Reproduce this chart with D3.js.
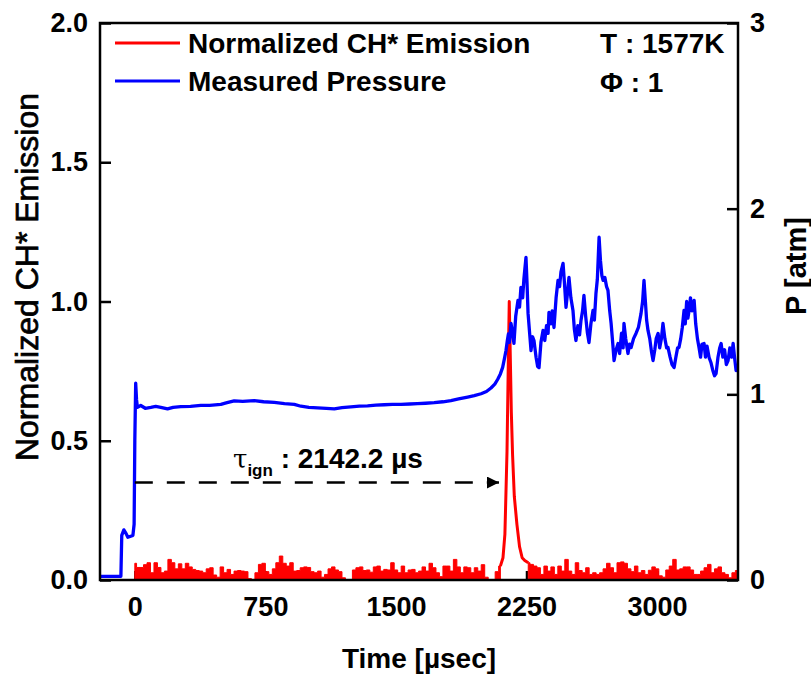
<!DOCTYPE html>
<html>
<head>
<meta charset="utf-8">
<script src="https://cdn.jsdelivr.net/npm/d3@7"></script>
<style>
body { margin: 0; background: #fff; }
text { font-family: "Liberation Sans", Arial, sans-serif; font-weight: bold; fill: #000; }
</style>
</head>
<body>
<script>
// normalized CH* emission, read every 20 us from t = 0 up to 2100
var emisStep = 20;
var emisBefore = [
  0.06, 0.045, 0.045, 0.055, 0.062, 0.026, 0.062, 0.045, 0.026, 0.032,
  0.074, 0.062, 0.04, 0.058, 0.04, 0.06, 0.047, 0.038, 0.034, 0.032,
  0.026, 0.04, 0.044, 0.018, 0.01, 0.047, 0.026, 0.038, 0.02, 0.032,
  0.034, 0.032, 0.03, 0.005, 0, 0.026, 0.056, 0.06, 0.03, 0.02,
  0.04, 0.062, 0.086, 0.06, 0.05, 0.062, 0.032, 0.034, 0.044, 0.047,
  0.045, 0.03, 0.026, 0.032, 0.01, 0.02, 0.04, 0.047, 0.036, 0.03,
  0.008, 0, 0, 0.036, 0.044, 0.047, 0.034, 0.036, 0.028, 0.047,
  0.05, 0.032, 0.038, 0.036, 0.062, 0.036, 0.026, 0.05, 0.026, 0.036,
  0.038, 0.026, 0.032, 0.047, 0.032, 0.06, 0.044, 0.026, 0.012, 0.05,
  0.05, 0.032, 0.074, 0.047, 0.026, 0.047, 0.044, 0.026, 0.044, 0.032,
  0.055, 0.01, 0, 0, 0.03, 0.05
];
// ignition peak [time us, value]
var emisSpike = [
  [2100, 0.05], [2115, 0.08], [2126, 0.165], [2138, 0.46], [2145, 0.76], [2151, 1.0],
  [2157, 0.8], [2163, 0.6], [2170, 0.45], [2180, 0.3], [2195, 0.2],
  [2210, 0.12], [2225, 0.08], [2240, 0.07], [2260, 0.062]
];
// after the peak, every 20 us from 2260
var emisAfterStart = 2260;
var emisAfter = [
  0.062, 0.056, 0.05, 0.044, 0.02, 0.05, 0.032, 0.047, 0.02, 0.05,
  0.032, 0.074, 0.032, 0.02, 0.062, 0.034, 0.026, 0.044, 0.02, 0.026,
  0.02, 0.026, 0.04, 0.06, 0.044, 0.026, 0.062, 0.065, 0.06, 0.04,
  0.03, 0.05, 0.026, 0.034, 0.02, 0.035, 0.047, 0.04, 0.015, 0.01,
  0.036, 0.05, 0.074, 0.036, 0.04, 0.047, 0.047, 0.036, 0.02, 0.02,
  0.032, 0.044, 0.056, 0.026, 0.04, 0.047, 0.026, 0.02, 0.008, 0.026,
  0.034
];

// measured pressure [time us, atm]
var pressure = [
  [-200, 0.02], [-80, 0.02], [-75, 0.24], [-63, 0.27], [-50, 0.25], [-40, 0.23],
  [-11, 0.24], [-4, 0.30], [0, 0.75], [5, 1.06], [10, 0.97], [15, 0.93],
  [34, 0.94], [60, 0.925], [92, 0.93], [120, 0.935], [149, 0.93], [188, 0.922],
  [220, 0.93], [264, 0.934], [320, 0.935], [379, 0.94], [430, 0.94], [494, 0.946],
  [530, 0.955], [571, 0.965], [620, 0.962], [686, 0.966], [740, 0.96], [801, 0.957],
  [860, 0.95], [916, 0.946], [954, 0.936], [1000, 0.93], [1050, 0.927], [1100, 0.924],
  [1146, 0.922], [1190, 0.928], [1241, 0.932], [1290, 0.936], [1337, 0.938], [1385, 0.942],
  [1433, 0.944], [1480, 0.946], [1529, 0.946], [1580, 0.948], [1624, 0.95], [1670, 0.952],
  [1720, 0.955], [1770, 0.96], [1816, 0.966], [1860, 0.975], [1912, 0.985], [1950, 0.993],
  [1989, 1.003], [2020, 1.015], [2046, 1.034], [2068, 1.055], [2084, 1.08], [2100, 1.11],
  [2113, 1.145], [2125, 1.2], [2132, 1.235], [2140, 1.29], [2146, 1.325], [2152, 1.28],
  [2161, 1.382], [2170, 1.33], [2178, 1.274], [2188, 1.42], [2201, 1.506], [2210, 1.47],
  [2218, 1.576], [2228, 1.52], [2235, 1.62], [2247, 1.738], [2253, 1.6], [2259, 1.436],
  [2268, 1.33], [2276, 1.236], [2285, 1.31], [2293, 1.29], [2305, 1.2], [2314, 1.15],
  [2322, 1.144], [2333, 1.28], [2345, 1.344], [2355, 1.29], [2365, 1.37], [2374, 1.328],
  [2379, 1.441], [2390, 1.38], [2398, 1.45], [2408, 1.36], [2420, 1.52], [2431, 1.614],
  [2440, 1.58], [2448, 1.66], [2460, 1.705], [2468, 1.6], [2477, 1.468], [2486, 1.55],
  [2494, 1.63], [2505, 1.52], [2517, 1.452], [2525, 1.35], [2534, 1.29], [2545, 1.37],
  [2555, 1.32], [2563, 1.398], [2572, 1.45], [2580, 1.533], [2590, 1.42], [2600, 1.33],
  [2609, 1.279], [2620, 1.38], [2632, 1.452], [2640, 1.4], [2649, 1.543], [2657, 1.62],
  [2667, 1.846], [2675, 1.72], [2683, 1.64], [2690, 1.614], [2700, 1.63], [2710, 1.58],
  [2718, 1.56], [2728, 1.45], [2736, 1.382], [2745, 1.28], [2753, 1.182], [2765, 1.24],
  [2776, 1.274], [2785, 1.22], [2796, 1.33], [2805, 1.25], [2810, 1.382], [2820, 1.3],
  [2833, 1.22], [2842, 1.27], [2851, 1.252], [2865, 1.3], [2879, 1.328], [2893, 1.36],
  [2908, 1.436], [2917, 1.5], [2925, 1.614], [2933, 1.5], [2940, 1.4], [2948, 1.344],
  [2958, 1.3], [2968, 1.23], [2977, 1.182], [2987, 1.24], [2995, 1.3], [3006, 1.328],
  [3015, 1.25], [3025, 1.3], [3034, 1.382], [3045, 1.3], [3055, 1.25], [3063, 1.252],
  [3075, 1.2], [3086, 1.16], [3098, 1.144], [3108, 1.2], [3118, 1.25], [3126, 1.252],
  [3136, 1.3], [3145, 1.36], [3155, 1.452], [3162, 1.38], [3170, 1.5], [3177, 1.41],
  [3184, 1.452], [3192, 1.52], [3200, 1.45], [3213, 1.506], [3222, 1.38], [3232, 1.3],
  [3241, 1.252], [3250, 1.2], [3258, 1.27], [3270, 1.274], [3278, 1.2], [3287, 1.26],
  [3299, 1.198], [3310, 1.17], [3320, 1.13], [3330, 1.1], [3339, 1.112], [3350, 1.2],
  [3360, 1.25], [3368, 1.274], [3378, 1.2], [3388, 1.24], [3398, 1.16], [3408, 1.182],
  [3418, 1.25], [3428, 1.2], [3437, 1.274], [3445, 1.2], [3454, 1.128], [3465, 1.15]
];

var xTicks = [0, 750, 1500, 2250, 3000];
var leftTicks = [0, 0.5, 1.0, 1.5, 2.0];
var rightTicks = [0, 1, 2, 3];

// ignition delay arrow (time from, time to, emission level)
var ignArrow = [0, 2092, 0.35];
var ignLabel = "2142.2 \u00b5s";

// layout
var margin = {top: 23, right: 73, bottom: 95, left: 100},
    width = 811 - margin.left - margin.right,
    height = 675 - margin.top - margin.bottom;

var svg = d3.select("body").append("svg")
    .attr("width", 811)
    .attr("height", 675)
  .append("g")
    .attr("transform", "translate(" + margin.left + "," + margin.top + ")");

var x = d3.scaleLinear().domain([-200, 3465]).range([0, width]);
var yL = d3.scaleLinear().domain([0, 2]).range([height, 0]);
var yR = d3.scaleLinear().domain([0, 3]).range([height, 0]);

svg.append("clipPath").attr("id", "clip")
  .append("rect").attr("width", width).attr("height", height);

// axes with inner ticks
var axB = svg.append("g").attr("transform", "translate(0," + height + ")")
    .call(d3.axisBottom(x).tickValues(xTicks).tickFormat(d3.format("d")).tickSizeInner(-9).tickSizeOuter(0).tickPadding(17));
var axL = svg.append("g")
    .call(d3.axisLeft(yL).tickValues(leftTicks).tickFormat(d3.format(".1f")).tickSizeInner(-11).tickSizeOuter(0).tickPadding(12));
var axR = svg.append("g").attr("transform", "translate(" + width + ",0)")
    .call(d3.axisRight(yR).tickValues(rightTicks).tickFormat(d3.format("d")).tickSizeInner(-11).tickSizeOuter(0).tickPadding(12));

[axB, axL, axR].forEach(function(a) {
    a.select(".domain").remove();
    a.selectAll(".tick line").attr("stroke", "#000").attr("stroke-width", 2.5);
    a.selectAll(".tick text").style("font-size", "27px").style("font-family", "'Liberation Sans', Arial, sans-serif").style("font-weight", "bold");
});

var plot = svg.append("g").attr("clip-path", "url(#clip)");

// emission series: noisy baseline as stepped fill, peak as a line
var before = emisBefore.map(function(v, i) { return [i * emisStep, v]; });
var after = emisAfter.map(function(v, i) { return [emisAfterStart + i * emisStep, v]; });

var emisArea = d3.area()
    .curve(d3.curveStep)
    .x(function(d) { return x(d[0]); })
    .y0(yL(0))
    .y1(function(d) { return yL(d[1]); });

[before, after].forEach(function(seg) {
    plot.append("path").datum(seg)
        .attr("fill", "#ff0000")
        .attr("stroke", "#ff0000")
        .attr("stroke-width", 1)
        .attr("d", emisArea);
});

plot.append("path").datum(emisSpike)
    .attr("fill", "none")
    .attr("stroke", "#ff0000")
    .attr("stroke-width", 3)
    .attr("stroke-linejoin", "round")
    .attr("d", d3.line().x(function(d) { return x(d[0]); }).y(function(d) { return yL(d[1]); }));

// pressure series
plot.append("path").datum(pressure)
    .attr("fill", "none")
    .attr("stroke", "#0000ff")
    .attr("stroke-width", 3.3)
    .attr("stroke-linejoin", "round")
    .attr("d", d3.line().x(function(d) { return x(d[0]); }).y(function(d) { return yR(d[1]); }));

// frame
svg.append("rect")
    .attr("width", width).attr("height", height)
    .attr("fill", "none").attr("stroke", "#000").attr("stroke-width", 2.5);

// ignition delay arrow
svg.append("defs").append("marker")
    .attr("id", "head")
    .attr("viewBox", "0 0 10 10")
    .attr("refX", 10).attr("refY", 5)
    .attr("markerUnits", "userSpaceOnUse")
    .attr("markerWidth", 19).attr("markerHeight", 12)
    .attr("orient", "auto")
  .append("path").attr("d", "M0,0L10,5L0,10Z").attr("fill", "#000");

svg.append("line")
    .attr("x1", x(ignArrow[0])).attr("x2", x(ignArrow[1]))
    .attr("y1", yL(ignArrow[2])).attr("y2", yL(ignArrow[2]))
    .attr("stroke", "#000").attr("stroke-width", 2.5)
    .attr("stroke-dasharray", "18,14")
    .attr("marker-end", "url(#head)");

var ann = svg.append("text")
    .attr("x", 133).attr("y", yL(ignArrow[2]) - 15)
    .style("font-size", "28px");
ann.append("tspan").style("font-weight", "normal").style("font-family", "'DejaVu Serif', serif").style("font-size", "26px").text("\u03c4");
ann.append("tspan").attr("dy", 8).style("font-size", "17px").text("ign");
ann.append("tspan").attr("dy", -8).text(" : " + ignLabel);

// legend
var legend = [
    {name: "Normalized CH* Emission", color: "#ff0000"},
    {name: "Measured Pressure", color: "#0000ff"}
];
var lg = svg.selectAll(".legend").data(legend).enter().append("g")
    .attr("class", "legend")
    .attr("transform", function(d, i) { return "translate(15," + (20 + i * 38) + ")"; });
lg.append("line").attr("x1", 0).attr("x2", 65)
    .attr("stroke", function(d) { return d.color; }).attr("stroke-width", 3);
lg.append("text").attr("x", 73).attr("y", 10)
    .style("font-size", "28px")
    .text(function(d) { return d.name; });

// conditions
svg.append("text").attr("x", 500).attr("y", 30).style("font-size", "28px").text("T : 1577K");
svg.append("text").attr("x", 500).attr("y", 69).style("font-size", "28px").text("\u03a6 : 1");

// axis titles
svg.append("text")
    .attr("x", width / 2).attr("y", height + 88)
    .attr("text-anchor", "middle")
    .style("font-size", "28px")
    .text("Time [\u00b5sec]");

svg.append("text")
    .attr("transform", "translate(-73," + (254) + ") rotate(-90)")
    .attr("text-anchor", "middle")
    .attr("dy", "0.35em")
    .style("font-size", "32px")
    .style("font-weight", "normal")
    .style("stroke", "#000").style("stroke-width", 0.7)
    .text("Normalized CH* Emission");

svg.append("text")
    .attr("transform", "translate(" + (width + 58) + "," + 243 + ") rotate(-90)")
    .attr("text-anchor", "middle")
    .attr("dy", "0.35em")
    .style("font-size", "29px")
    .text("P [atm]");
</script>
</body>
</html>
